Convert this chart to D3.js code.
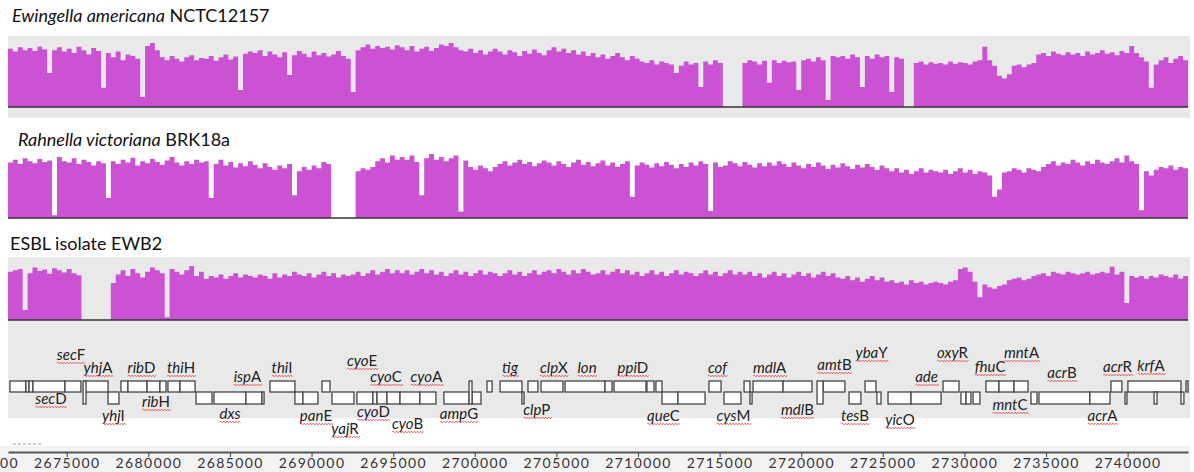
<!DOCTYPE html>
<html>
<head>
<meta charset="utf-8">
<script src="https://cdn.jsdelivr.net/npm/d3@7"></script>
<style>
  body { margin: 0; background: #fff; }
  svg { display: block; }
  text { font-family: Lato, "Open Sans", sans-serif; }
</style>
</head>
<body>
<script>
// genomic window shown and bin size of the coverage histograms (bp)
const regionStart = 2671400, regionEnd = 2743700, binSize = 300;

// read coverage per 300 bp bin (arbitrary depth units, 0..100)
const ewingellaCov = [
  82, 78, 84, 80, 83, 79, 85, 81, 48, 80,
  84, 78, 82, 76, 85, 80, 74, 83, 79, 27,
  76, 70, 78, 66, 74, 72, 68, 14, 86, 90,
  80, 70, 66, 72, 68, 64, 70, 73, 66, 69,
  68, 72, 65, 70, 74, 67, 71, 24, 75, 78,
  76, 80, 72, 78, 74, 70, 77, 45, 73, 79,
  75, 70, 78, 73, 76, 71, 74, 79, 72, 68,
  21, 80, 84, 88, 82, 86, 83, 85, 81, 87,
  84, 80, 86, 78, 82, 85, 79, 83, 88, 86,
  90, 84, 80, 78, 82, 76, 80, 74, 78, 82,
  78, 74, 80, 77, 72, 79, 75, 81, 76, 73,
  80, 84, 78, 82, 76, 80, 74, 78, 72, 76,
  70, 74, 68, 72, 76, 70, 66, 72, 68, 64,
  62, 66, 60, 64, 62, 60, 48, 58, 64, 60,
  62, 28, 64, 60, 66, 62, 0, 0, 0, 0,
  62, 66, 64, 60, 65, 34, 66, 62, 65, 63,
  64, 24, 66, 68, 64, 70, 66, 10, 72, 70,
  72, 68, 74, 70, 28, 72, 68, 74, 70, 72,
  21, 70, 68, 0, 0, 62, 64, 60, 63, 61,
  62, 60, 64, 61, 63, 62, 60, 64, 66, 85,
  66, 58, 44, 40, 46, 58, 60, 56, 60, 62,
  74, 76, 72, 78, 75, 73, 77, 74, 76, 72,
  78, 74, 76, 80, 75, 77, 73, 79, 76, 86,
  76, 70, 64, 27, 60, 66, 70, 62, 68, 72, 66
];
const rahnellaCov = [
  78, 82, 76, 84, 80, 77, 83, 79, 81, 4,
  86, 80, 78, 84, 76, 82, 79, 74, 80, 77,
  28, 80, 76, 82, 78, 85, 74, 80, 77, 83,
  79, 75, 81, 86, 78, 74, 80, 76, 82, 78,
  80, 28, 76, 82, 74, 79, 71, 77, 73, 80,
  75, 70, 77, 72, 68, 74, 70, 76, 32, 66,
  72, 68, 74, 70, 79, 76, 0, 0, 0, 0,
  0, 66, 70, 68, 72, 80, 84, 78, 88, 82,
  86, 82, 88, 79, 32, 84, 90, 82, 86, 80,
  84, 88, 9, 81, 72, 68, 74, 70, 66, 72,
  76, 80, 74, 78, 82, 76, 79, 73, 77, 81,
  78, 74, 80, 76, 72, 78, 82, 75, 79, 73,
  77, 81, 74, 78, 72, 76, 80, 30, 74, 78,
  75, 71, 77, 73, 79, 75, 70, 76, 72, 78,
  74, 80, 76, 10, 78, 72, 74, 80, 77, 73,
  79, 75, 71, 77, 73, 78, 74, 80, 76, 72,
  78, 74, 70, 76, 72, 78, 74, 69, 75, 71,
  77, 73, 69, 75, 71, 76, 72, 68, 74, 70,
  66, 70, 64, 68, 62, 66, 70, 64, 68, 66,
  64, 68, 62, 66, 70, 64, 68, 62, 66, 64,
  60, 30, 40, 64, 66, 70, 68, 64, 70, 68,
  66, 72, 76, 80, 74, 78, 76, 82, 78, 74,
  80, 76, 82, 78, 76, 80, 84, 78, 88, 80,
  76, 11, 66, 60, 68, 72, 70, 74, 68, 72, 70
];
const ewb2Cov = [
  68, 70, 72, 14, 66, 74, 69, 71, 65, 73,
  70, 67, 72, 66, 63, 0, 0, 0, 0, 0,
  0, 52, 64, 70, 62, 72, 66, 60, 68, 74,
  70, 66, 4, 72, 68, 64, 70, 76, 62, 68,
  58, 62, 60, 64, 58, 62, 66, 60, 64, 62,
  60, 64, 62, 58, 66, 60, 64, 62, 68, 64,
  62, 66, 60, 64, 68, 62, 66, 60, 64, 62,
  64, 68, 62, 66, 70, 64, 68, 72, 66, 70,
  66, 70, 64, 68, 72, 66, 70, 64, 68, 62,
  66, 70, 64, 68, 62, 66, 70, 64, 68, 66,
  62, 66, 70, 64, 68, 62, 66, 70, 64, 68,
  70, 66, 72, 68, 64, 70, 66, 72, 68, 64,
  66, 70, 64, 68, 72, 66, 70, 64, 68, 62,
  66, 70, 64, 68, 62, 66, 70, 64, 68, 66,
  62, 66, 70, 64, 68, 62, 66, 70, 64, 68,
  64, 68, 62, 66, 60, 64, 68, 62, 66, 60,
  64, 68, 62, 66, 60, 64, 68, 62, 66, 60,
  58, 62, 56, 60, 54, 58, 62, 56, 60, 54,
  56, 52, 54, 50, 56, 52, 54, 50, 52, 54,
  52, 50, 54, 56, 72, 74, 68, 54, 32, 50,
  46, 44, 48, 50, 56, 58, 60, 56, 58, 62,
  64, 66, 62, 68, 66, 64, 68, 66, 64, 66,
  68, 64, 66, 68, 66, 75, 64, 68, 24, 62,
  60, 62, 58, 62, 60, 64, 62, 60, 64, 58, 62
];

// track titles: italic part, upright part
const trackItalic = ["Ewingella americana", "Rahnella victoriana", ""];
const trackPlain = [" NCTC12157", " BRK18a", "ESBL isolate EWB2"];

// axis ticks (bp)
const tickValues = [2670000, 2675000, 2680000, 2685000, 2690000, 2695000, 2700000,
  2705000, 2710000, 2715000, 2720000, 2725000, 2730000, 2735000, 2740000];

// gene features [start, end] (bp), by strand
const genesPlus = [
  [2671520, 2672500], [2672500, 2672690], [2672690, 2672930], [2672930, 2674890],
  [2674890, 2675870], [2676060, 2677530], [2678320, 2678750], [2678750, 2679920],
  [2679920, 2680710], [2680710, 2681080], [2681200, 2681940], [2681940, 2682860],
  [2687450, 2688980], [2690640, 2691130], [2700750, 2701060], [2701550, 2702890],
  [2703260, 2703870], [2704060, 2705400], [2705530, 2707980], [2707980, 2708410],
  [2708530, 2710490], [2710550, 2710980], [2711100, 2711470], [2714350, 2715090],
  [2716500, 2716860], [2717050, 2718890], [2718890, 2720660], [2721340, 2722680],
  [2723910, 2724580], [2728690, 2729670], [2731320, 2732120], [2732120, 2733040],
  [2733040, 2733900], [2738980, 2739650], [2740020, 2743270], [2743580, 2743700]
];
const genesMinus = [
  [2677530, 2678200], [2682920, 2683900], [2684020, 2685980], [2685980, 2686960],
  [2686960, 2687090], [2688980, 2689470], [2689470, 2690390], [2691250, 2692600],
  [2692780, 2693760], [2693760, 2694010], [2694010, 2694620], [2694620, 2695420],
  [2695420, 2696640], [2696640, 2697620], [2698110, 2699650], [2699830, 2700380],
  [2702890, 2703020], [2711470, 2712450], [2712450, 2714110], [2715270, 2716310],
  [2716860, 2716990], [2722930, 2723660], [2724640, 2724890], [2725320, 2726730],
  [2726730, 2728570], [2729790, 2730100], [2730100, 2730400], [2730530, 2730950],
  [2734080, 2734450], [2734570, 2737690], [2737690, 2738920], [2739840, 2739960],
  [2741620, 2741800], [2743270, 2743450]
];
// short features drawn across both strands
const genesBoth = [[2676000, 2676180], [2699650, 2699830], [2720970, 2721340]];

// gene labels and their anchor (bp)
const geneNames = ["secF", "yhjA", "ribD", "thiH", "ispA", "thiI", "cyoE", "cyoC", "cyoA",
  "tig", "clpX", "lon", "ppiD", "cof", "mdlA", "amtB", "ybaY", "ade", "oxyR", "fhuC",
  "mntA", "acrB", "acrR", "krfA",
  "secD", "ribH", "yhjI", "dxs", "panE", "yajR", "cyoD", "cyoB", "ampG", "clpP",
  "queC", "cysM", "mdlB", "tesB", "yicO", "mntC", "acrA"];
const geneLabelPos = [2675260, 2676910, 2679580, 2682000, 2686070, 2688190, 2693090, 2694560, 2697040,
  2702160, 2704850, 2706880, 2709690, 2714870, 2718060, 2722040, 2724310, 2727680, 2729270, 2731570,
  2733500, 2735980, 2739380, 2741430,
  2674030, 2680470, 2677860, 2685000, 2690270, 2692050, 2693790, 2695880, 2699030, 2703800,
  2711560, 2715850, 2719770, 2723300, 2726050, 2732790, 2738460];

// ---- layout ----
const width = 1194, height = 472;
const labelBaseline = [360, 373, 373, 373, 382, 373, 366, 382, 382,
  373, 373, 373, 373, 373, 373, 370, 358, 382, 358, 372,
  358, 378, 372, 371,
  404, 407, 421, 419, 421, 434, 417, 429, 419, 415,
  421, 421, 415, 421, 425, 410, 421];

const tracks = [
  { cov: ewingellaCov, base: 107, bandTop: 36, bandBottom: 118, titleX: 12, titleY: 22 },
  { cov: rahnellaCov, base: 218, bandTop: null, bandBottom: null, titleX: 18, titleY: 146 },
  { cov: ewb2Cov, base: 320, bandTop: 257, bandBottom: 418, titleX: 10, titleY: 250 }
];

const svg = d3.select("body").append("svg").attr("width", width).attr("height", height);

const x = d3.scaleLinear().domain([regionStart, regionEnd]).range([8, 1188]);

// light strip behind the ruler
svg.append("rect").attr("x", 0).attr("y", 446).attr("width", 1190).attr("height", 26).attr("fill", "#f3f3f3");

tracks.forEach((t, k) => {
  if (t.bandTop !== null) {
    svg.append("rect").attr("x", 8).attr("y", t.bandTop)
      .attr("width", 1182).attr("height", t.bandBottom - t.bandTop)
      .attr("fill", "#e9e9e9");
  }
  const y = d3.scaleLinear().domain([0, 100]).range([t.base, t.base - 71]);
  const pts = t.cov.map((v, i) => ({ p: regionStart + i * binSize, v: v }));
  pts.push({ p: regionStart + t.cov.length * binSize, v: t.cov[t.cov.length - 1] });
  const area = d3.area().curve(d3.curveStepAfter)
    .x(d => Math.min(x(d.p), 1188)).y0(t.base).y1(d => y(d.v));
  svg.append("path").datum(pts).attr("d", area).attr("fill", "#cc52d4");
  svg.append("line").attr("x1", 8).attr("x2", 1188).attr("y1", t.base).attr("y2", t.base)
    .attr("stroke", "#333").attr("stroke-width", 1.6);

  const title = svg.append("text").attr("x", t.titleX).attr("y", t.titleY)
    .attr("font-size", 18).attr("fill", "#111");
  if (trackItalic[k]) title.append("tspan").attr("font-style", "italic").text(trackItalic[k]);
  title.append("tspan").text(trackPlain[k]);
});

// gene boxes
const rowTop = 381, rowMid = 392, rowBot = 404;
const geneG = svg.append("g").attr("fill", "#fff").attr("stroke", "#444").attr("stroke-width", 1.3);
function boxes(list, y0, y1) {
  geneG.selectAll(null).data(list).enter().append("rect")
    .attr("x", d => x(d[0])).attr("y", y0)
    .attr("width", d => Math.max(1, x(d[1]) - x(d[0]))).attr("height", y1 - y0);
}
boxes(genesPlus, rowTop, rowMid);
boxes(genesMinus, rowMid, rowBot);
boxes(genesBoth, rowTop, rowBot);

// gene labels: italic lower-case stem, upright trailing capital
const labG = svg.append("g");
geneNames.forEach((name, i) => {
  const m = name.match(/^([a-z]+)([A-Z]?)$/);
  const t = labG.append("text").attr("x", x(geneLabelPos[i])).attr("y", labelBaseline[i])
    .attr("text-anchor", "middle").attr("font-size", 15).attr("fill", "#222");
  t.append("tspan").attr("font-style", "italic").text(m[1]);
  if (m[2]) t.append("tspan").text(m[2]);
  const w = t.node().getComputedTextLength();
  const x0 = x(geneLabelPos[i]) - w / 2, yb = labelBaseline[i] + 3;
  let d = "M" + x0 + "," + yb;
  for (let s = 0, up = true; s < w; s += 1.5, up = !up) d += "L" + (x0 + s + 1.5) + "," + (yb + (up ? -0.9 : 0.9));
  labG.append("path").attr("d", d).attr("fill", "none").attr("stroke", "#e04848").attr("stroke-width", 0.8);
});

// small dashed mark left above the ruler
svg.append("line").attr("x1", 13).attr("x2", 43).attr("y1", 444).attr("y2", 444)
  .attr("stroke", "#999").attr("stroke-width", 1).attr("stroke-dasharray", "3,2");

// ruler
const axis = d3.axisBottom(x).tickValues(tickValues).tickFormat(d3.format("d"))
  .tickSize(5).tickSizeOuter(0).tickPadding(1);
const ax = svg.append("g").attr("transform", "translate(0,452)").call(axis);
ax.select(".domain").attr("stroke", "#555").attr("stroke-width", 2);
ax.selectAll(".tick line").attr("stroke", "#555").attr("stroke-width", 1.2);
ax.selectAll(".tick text").attr("font-size", 14).attr("fill", "#333")
  .attr("font-family", "Lato, sans-serif").attr("letter-spacing", "1.4px");
</script>
</body>
</html>
